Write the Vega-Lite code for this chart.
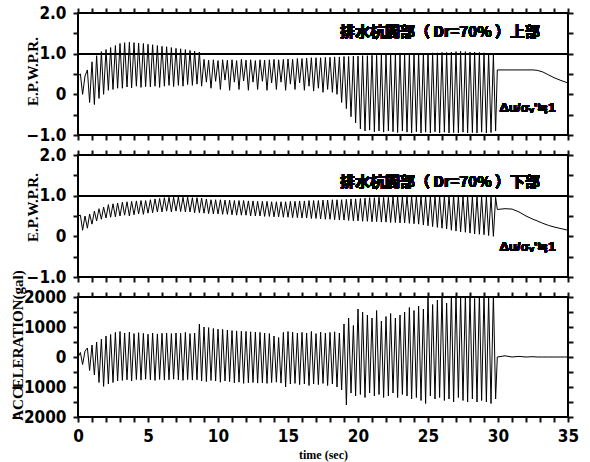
{
"$schema": "https://vega.github.io/schema/vega-lite/v6.json",
"padding": {"left": 9, "top": 3, "right": 10, "bottom": 4},
"background": "white",
"bounds": "flush",
"spacing": 20,
"config": {
  "view": {"stroke": "black", "strokeWidth": 2},
  "axis": {"domain": false, "grid": false, "tickColor": "#111111", "tickWidth": 2, "tickSize": 5, "labelOverlap": false, "labelFont": "Liberation Sans Narrow, DejaVu Sans Condensed, Liberation Sans", "labelFontWeight": "bold", "labelFontSize": 17, "labelColor": "black", "titleFont": "Liberation Serif", "titleFontWeight": "bold", "titleColor": "black", "labelFlush": false}
},
"data": {"values": [
{"t":0,"u":0.45,"l":0.5,"a":0},{"t":0.17,"u":0.5,"l":0.52,"a":150},{"t":0.33,"u":0.0,"l":0.15,"a":-250},{"t":0.5,"u":0.45,"l":0.5,"a":200},{"t":0.67,"u":0.6,"l":0.2,"a":300},{"t":0.83,"u":-0.2,"l":0.55,"a":-450},
{"t":1.0,"u":0.8,"l":0.3,"a":400},{"t":1.17,"u":-0.25,"l":0.62,"a":-600},{"t":1.33,"u":0.95,"l":0.38,"a":500},{"t":1.5,"u":-0.1,"l":0.68,"a":-850},{"t":1.67,"u":1.05,"l":0.42,"a":600},{"t":1.83,"u":0.0,"l":0.72,"a":-980},
{"t":2.0,"u":1.1,"l":0.45,"a":700},{"t":2.17,"u":0.1,"l":0.78,"a":-900},{"t":2.33,"u":1.15,"l":0.47,"a":750},{"t":2.5,"u":0.12,"l":0.8,"a":-850},{"t":2.67,"u":1.2,"l":0.48,"a":820},{"t":2.83,"u":0.15,"l":0.82,"a":-800},
{"t":3.0,"u":1.25,"l":0.5,"a":850},{"t":3.17,"u":0.15,"l":0.84,"a":-780},{"t":3.33,"u":1.27,"l":0.52,"a":800},{"t":3.5,"u":0.18,"l":0.85,"a":-760},{"t":3.67,"u":1.28,"l":0.5,"a":830},{"t":3.83,"u":0.16,"l":0.86,"a":-800},
{"t":4.0,"u":1.27,"l":0.53,"a":780},{"t":4.17,"u":0.2,"l":0.87,"a":-750},{"t":4.33,"u":1.26,"l":0.55,"a":810},{"t":4.5,"u":0.17,"l":0.88,"a":-770},{"t":4.67,"u":1.25,"l":0.54,"a":790},{"t":4.83,"u":0.19,"l":0.88,"a":-740},
{"t":5.0,"u":1.23,"l":0.57,"a":760},{"t":5.17,"u":0.18,"l":0.9,"a":-760},{"t":5.33,"u":1.22,"l":0.58,"a":800},{"t":5.5,"u":0.2,"l":0.92,"a":-780},{"t":5.67,"u":1.2,"l":0.6,"a":770},{"t":5.83,"u":0.17,"l":0.93,"a":-750},
{"t":6.0,"u":1.18,"l":0.6,"a":790},{"t":6.17,"u":0.2,"l":0.95,"a":-770},{"t":6.33,"u":1.17,"l":0.62,"a":800},{"t":6.5,"u":0.22,"l":0.96,"a":-760},{"t":6.67,"u":1.15,"l":0.6,"a":780},{"t":6.83,"u":0.19,"l":0.96,"a":-740},
{"t":7.0,"u":1.13,"l":0.62,"a":800},{"t":7.17,"u":0.22,"l":0.97,"a":-760},{"t":7.33,"u":1.12,"l":0.61,"a":790},{"t":7.5,"u":0.2,"l":0.96,"a":-780},{"t":7.67,"u":1.1,"l":0.6,"a":820},{"t":7.83,"u":0.24,"l":0.96,"a":-750},
{"t":8.0,"u":1.08,"l":0.6,"a":780},{"t":8.17,"u":0.22,"l":0.95,"a":-770},{"t":8.33,"u":1.06,"l":0.58,"a":800},{"t":8.5,"u":0.25,"l":0.95,"a":-760},{"t":8.67,"u":1.04,"l":0.58,"a":1100},{"t":8.83,"u":0.2,"l":0.94,"a":-800},
{"t":9.0,"u":0.86,"l":0.57,"a":1000},{"t":9.17,"u":0.3,"l":0.92,"a":-820},{"t":9.33,"u":0.84,"l":0.56,"a":980},{"t":9.5,"u":0.15,"l":0.9,"a":-780},{"t":9.67,"u":0.85,"l":0.55,"a":950},{"t":9.83,"u":0.32,"l":0.9,"a":-800},
{"t":10.0,"u":0.83,"l":0.55,"a":930},{"t":10.17,"u":0.12,"l":0.9,"a":-840},{"t":10.33,"u":0.85,"l":0.54,"a":920},{"t":10.5,"u":0.35,"l":0.89,"a":-800},{"t":10.67,"u":0.84,"l":0.54,"a":900},{"t":10.83,"u":0.1,"l":0.89,"a":-820},
{"t":11.0,"u":0.85,"l":0.53,"a":880},{"t":11.17,"u":0.3,"l":0.88,"a":-860},{"t":11.33,"u":0.83,"l":0.52,"a":870},{"t":11.5,"u":0.12,"l":0.88,"a":-840},{"t":11.67,"u":0.86,"l":0.52,"a":860},{"t":11.83,"u":0.33,"l":0.88,"a":-880},
{"t":12.0,"u":0.84,"l":0.52,"a":850},{"t":12.17,"u":0.1,"l":0.87,"a":-860},{"t":12.33,"u":0.85,"l":0.5,"a":840},{"t":12.5,"u":0.3,"l":0.87,"a":-850},{"t":12.67,"u":0.83,"l":0.5,"a":830},{"t":12.83,"u":0.12,"l":0.86,"a":-870},
{"t":13.0,"u":0.85,"l":0.5,"a":820},{"t":13.17,"u":0.32,"l":0.86,"a":-860},{"t":13.33,"u":0.84,"l":0.49,"a":800},{"t":13.5,"u":0.1,"l":0.86,"a":-880},{"t":13.67,"u":0.85,"l":0.49,"a":780},{"t":13.83,"u":0.28,"l":0.85,"a":-850},
{"t":14.0,"u":0.86,"l":0.48,"a":700},{"t":14.17,"u":0.12,"l":0.85,"a":-840},{"t":14.33,"u":0.85,"l":0.48,"a":650},{"t":14.5,"u":0.3,"l":0.85,"a":-870},{"t":14.67,"u":0.86,"l":0.47,"a":820},{"t":14.83,"u":0.1,"l":0.85,"a":-1000},
{"t":15.0,"u":0.87,"l":0.47,"a":850},{"t":15.17,"u":0.25,"l":0.86,"a":-900},{"t":15.33,"u":0.86,"l":0.46,"a":830},{"t":15.5,"u":0.12,"l":0.86,"a":-880},{"t":15.67,"u":0.88,"l":0.46,"a":800},{"t":15.83,"u":0.28,"l":0.87,"a":-920},
{"t":16.0,"u":0.88,"l":0.45,"a":820},{"t":16.17,"u":0.1,"l":0.87,"a":-900},{"t":16.33,"u":0.89,"l":0.45,"a":800},{"t":16.5,"u":0.2,"l":0.88,"a":-950},{"t":16.67,"u":0.9,"l":0.44,"a":850},{"t":16.83,"u":0.08,"l":0.88,"a":-900},
{"t":17.0,"u":0.9,"l":0.44,"a":780},{"t":17.17,"u":0.15,"l":0.88,"a":-920},{"t":17.33,"u":0.9,"l":0.43,"a":830},{"t":17.5,"u":0.05,"l":0.89,"a":-880},{"t":17.67,"u":0.91,"l":0.42,"a":800},{"t":17.83,"u":0.12,"l":0.89,"a":-950},
{"t":18.0,"u":0.91,"l":0.42,"a":820},{"t":18.17,"u":0.05,"l":0.9,"a":-900},{"t":18.33,"u":0.92,"l":0.41,"a":840},{"t":18.5,"u":0.0,"l":0.9,"a":-1000},{"t":18.67,"u":0.92,"l":0.4,"a":800},{"t":18.83,"u":-0.2,"l":0.9,"a":-1100},
{"t":19.0,"u":0.93,"l":0.4,"a":1100},{"t":19.17,"u":-0.35,"l":0.91,"a":-1600},{"t":19.33,"u":0.93,"l":0.39,"a":1300},{"t":19.5,"u":-0.55,"l":0.92,"a":-1200},{"t":19.67,"u":0.94,"l":0.38,"a":1050},{"t":19.83,"u":-0.7,"l":0.92,"a":-1300},
{"t":20.0,"u":0.94,"l":0.38,"a":1600},{"t":20.17,"u":-0.85,"l":0.93,"a":-1250},{"t":20.33,"u":0.95,"l":0.37,"a":1500},{"t":20.5,"u":-0.9,"l":0.94,"a":-1350},{"t":20.67,"u":0.95,"l":0.37,"a":1400},{"t":20.83,"u":-0.88,"l":0.95,"a":-1200},
{"t":21.0,"u":0.96,"l":0.36,"a":1300},{"t":21.17,"u":-0.92,"l":0.95,"a":-1300},{"t":21.33,"u":0.96,"l":0.36,"a":1550},{"t":21.5,"u":-0.9,"l":0.96,"a":-1250},{"t":21.67,"u":0.97,"l":0.35,"a":1200},{"t":21.83,"u":-0.93,"l":0.96,"a":-1350},
{"t":22.0,"u":0.97,"l":0.35,"a":1350},{"t":22.17,"u":-0.9,"l":0.96,"a":-1300},{"t":22.33,"u":0.98,"l":0.34,"a":1450},{"t":22.5,"u":-0.92,"l":0.97,"a":-1200},{"t":22.67,"u":0.98,"l":0.34,"a":1300},{"t":22.83,"u":-0.94,"l":0.97,"a":-1350},
{"t":23.0,"u":0.98,"l":0.33,"a":1400},{"t":23.17,"u":-0.9,"l":0.97,"a":-1250},{"t":23.33,"u":0.99,"l":0.33,"a":1500},{"t":23.5,"u":-0.93,"l":0.98,"a":-1300},{"t":23.67,"u":0.99,"l":0.32,"a":1650},{"t":23.83,"u":-0.95,"l":0.98,"a":-1400},
{"t":24.0,"u":1.0,"l":0.31,"a":1550},{"t":24.17,"u":-0.92,"l":0.98,"a":-1350},{"t":24.33,"u":1.0,"l":0.3,"a":1700},{"t":24.5,"u":-0.95,"l":0.98,"a":-1450},{"t":24.67,"u":1.01,"l":0.28,"a":1600},{"t":24.83,"u":-0.93,"l":0.98,"a":-1550},
{"t":25.0,"u":1.01,"l":0.26,"a":2100},{"t":25.17,"u":-0.95,"l":0.98,"a":-1300},{"t":25.33,"u":1.02,"l":0.24,"a":1750},{"t":25.5,"u":-0.92,"l":0.99,"a":-1400},{"t":25.67,"u":1.02,"l":0.22,"a":1900},{"t":25.83,"u":-0.95,"l":0.99,"a":-1350},
{"t":26.0,"u":1.03,"l":0.2,"a":2100},{"t":26.17,"u":-0.93,"l":0.99,"a":-1450},{"t":26.33,"u":1.03,"l":0.18,"a":1800},{"t":26.5,"u":-0.95,"l":1.0,"a":-1400},{"t":26.67,"u":1.04,"l":0.15,"a":2100},{"t":26.83,"u":-0.94,"l":1.0,"a":-1500},
{"t":27.0,"u":1.05,"l":0.13,"a":2100},{"t":27.17,"u":-0.95,"l":0.99,"a":-1350},{"t":27.33,"u":1.06,"l":0.11,"a":2000},{"t":27.5,"u":-0.93,"l":0.99,"a":-1450},{"t":27.67,"u":1.05,"l":0.1,"a":2100},{"t":27.83,"u":-0.95,"l":0.99,"a":-1500},
{"t":28.0,"u":1.04,"l":0.08,"a":2100},{"t":28.17,"u":-0.94,"l":0.98,"a":-1400},{"t":28.33,"u":1.04,"l":0.06,"a":1950},{"t":28.5,"u":-0.95,"l":0.98,"a":-1500},{"t":28.67,"u":1.03,"l":0.05,"a":2100},{"t":28.83,"u":-0.93,"l":0.98,"a":-1450},
{"t":29.0,"u":1.02,"l":0.04,"a":2100},{"t":29.17,"u":-0.95,"l":0.97,"a":-1500},{"t":29.33,"u":1.0,"l":0.02,"a":2000},{"t":29.5,"u":-0.94,"l":0.97,"a":-1550},{"t":29.67,"u":0.98,"l":0.0,"a":2100},{"t":29.83,"u":-0.9,"l":0.96,"a":-1400},
{"t":29.95,"u":0.6,"l":0.66,"a":0},{"t":30.5,"u":0.6,"l":0.68,"a":40},{"t":31.0,"u":0.6,"l":0.67,"a":0},{"t":31.5,"u":0.6,"l":0.6,"a":20},{"t":32.0,"u":0.6,"l":0.5,"a":0},{"t":32.5,"u":0.6,"l":0.42,"a":10},{"t":32.8,"u":0.59,"l":0.38,"a":0},{"t":33.2,"u":0.55,"l":0.32,"a":0},{"t":33.6,"u":0.48,"l":0.27,"a":0},{"t":34.0,"u":0.41,"l":0.23,"a":0},{"t":34.5,"u":0.34,"l":0.19,"a":0},{"t":35.0,"u":0.28,"l":0.15,"a":0}
]},
"vconcat": [
{
  "width": 490, "height": 122,
  "resolve": {"axis": {"x": "independent", "y": "independent"}},
  "layer": [
    {"mark": {"type": "line", "color": "black", "strokeWidth": 1, "clip": true},
     "encoding": {
       "x": {"field": "t", "type": "quantitative", "scale": {"domain": [0, 35]},
             "axis": {"orient": "bottom", "labels": false, "title": null, "values": [0,1,2,3,4,5,6,7,8,9,10,11,12,13,14,15,16,17,18,19,20,21,22,23,24,25,26,27,28,29,30,31,32,33,34,35]}},
       "y": {"field": "u", "type": "quantitative", "scale": {"domain": [-1, 2]},
             "axis": {"orient": "left", "values": [-1,-0.5,0,0.5,1,1.5,2], "labelExpr": "datum.value === 0 ? '0' : (datum.value % 1 === 0 ? format(datum.value, '.1f') : '')", "labelPadding": 7, "title": "E.P.W.P.R.", "titleFontSize": 15, "titleAngle": -90, "titleBaseline": "middle", "titleAlign": "center", "titleX": -46, "titleY": 58}}
     }},
    {"mark": {"type": "line", "opacity": 0},
     "encoding": {
       "x": {"field": "t", "type": "quantitative", "axis": {"orient": "top", "labels": false, "title": null, "values": [0,1,2,3,4,5,6,7,8,9,10,11,12,13,14,15,16,17,18,19,20,21,22,23,24,25,26,27,28,29,30,31,32,33,34,35]}},
       "y": {"field": "u", "type": "quantitative", "axis": {"orient": "right", "labels": false, "title": null, "values": [-1,-0.5,0,0.5,1,1.5,2]}}
     }},
    {"mark": {"type": "rule", "color": "black", "strokeWidth": 1.5}, "encoding": {"y": {"datum": 1, "axis": null}}},
    {"mark": {"type": "text", "align": "right", "baseline": "middle", "font": "Noto Sans CJK JP", "fontWeight": "bold", "fontSize": 15, "color": "black"},
     "encoding": {"x": {"datum": 33, "axis": null}, "y": {"datum": 1.54, "axis": null}, "text": {"value": "排水杭間部（ Dr=70% ）上部"}}},
    {"mark": {"type": "text", "align": "right", "baseline": "middle", "font": "Liberation Sans", "fontWeight": "bold", "fontSize": 13, "color": "black"},
     "encoding": {"x": {"datum": 34.1, "axis": null}, "y": {"datum": -0.33, "axis": null}, "text": {"value": "Δu/σᵥ'≒1"}}}
  ]
},
{
  "width": 490, "height": 122,
  "resolve": {"axis": {"x": "independent", "y": "independent"}},
  "layer": [
    {"mark": {"type": "line", "color": "black", "strokeWidth": 1, "clip": true},
     "encoding": {
       "x": {"field": "t", "type": "quantitative", "scale": {"domain": [0, 35]},
             "axis": {"orient": "bottom", "labels": false, "title": null, "values": [0,1,2,3,4,5,6,7,8,9,10,11,12,13,14,15,16,17,18,19,20,21,22,23,24,25,26,27,28,29,30,31,32,33,34,35]}},
       "y": {"field": "l", "type": "quantitative", "scale": {"domain": [-1, 2]},
             "axis": {"orient": "left", "values": [-1,-0.5,0,0.5,1,1.5,2], "labelExpr": "datum.value === 0 ? '0' : (datum.value % 1 === 0 ? format(datum.value, '.1f') : '')", "labelPadding": 7, "title": "E.P.W.P.R.", "titleFontSize": 15, "titleAngle": -90, "titleBaseline": "middle", "titleAlign": "center", "titleX": -46, "titleY": 52}}
     }},
    {"mark": {"type": "line", "opacity": 0},
     "encoding": {
       "x": {"field": "t", "type": "quantitative", "axis": {"orient": "top", "labels": false, "title": null, "values": [0,1,2,3,4,5,6,7,8,9,10,11,12,13,14,15,16,17,18,19,20,21,22,23,24,25,26,27,28,29,30,31,32,33,34,35]}},
       "y": {"field": "l", "type": "quantitative", "axis": {"orient": "right", "labels": false, "title": null, "values": [-1,-0.5,0,0.5,1,1.5,2]}}
     }},
    {"mark": {"type": "rule", "color": "black", "strokeWidth": 1.5}, "encoding": {"y": {"datum": 1, "axis": null}}},
    {"mark": {"type": "text", "align": "right", "baseline": "middle", "font": "Noto Sans CJK JP", "fontWeight": "bold", "fontSize": 15, "color": "black"},
     "encoding": {"x": {"datum": 33, "axis": null}, "y": {"datum": 1.34, "axis": null}, "text": {"value": "排水杭間部（ Dr=70% ）下部"}}},
    {"mark": {"type": "text", "align": "right", "baseline": "middle", "font": "Liberation Sans", "fontWeight": "bold", "fontSize": 13, "color": "black"},
     "encoding": {"x": {"datum": 34.1, "axis": null}, "y": {"datum": -0.25, "axis": null}, "text": {"value": "Δu/σᵥ'≒1"}}}
  ]
},
{
  "width": 490, "height": 120,
  "resolve": {"axis": {"x": "independent", "y": "independent"}},
  "layer": [
    {"mark": {"type": "line", "color": "black", "strokeWidth": 1, "clip": true},
     "encoding": {
       "x": {"field": "t", "type": "quantitative", "scale": {"domain": [0, 35]},
             "axis": {"orient": "bottom", "values": [0,1,2,3,4,5,6,7,8,9,10,11,12,13,14,15,16,17,18,19,20,21,22,23,24,25,26,27,28,29,30,31,32,33,34,35], "labelExpr": "datum.value % 5 === 0 ? datum.label : ''", "labelPadding": 6, "title": "time (sec)", "titleFontSize": 12, "titleBaseline": "middle", "titleX": 245, "titleY": 37}},
       "y": {"field": "a", "type": "quantitative", "scale": {"domain": [-2000, 2000]},
             "axis": {"orient": "left", "values": [-2000,-1500,-1000,-500,0,500,1000,1500,2000], "labelExpr": "datum.value % 1000 === 0 ? format(datum.value, 'd') : ''", "labelPadding": 7, "title": "ACCELERATION(gal)", "titleFontSize": 15, "titleAngle": -90, "titleBaseline": "middle", "titleAlign": "center", "titleX": -61, "titleY": 48}}
     }},
    {"mark": {"type": "line", "opacity": 0},
     "encoding": {
       "x": {"field": "t", "type": "quantitative", "axis": {"orient": "top", "labels": false, "title": null, "values": [0,1,2,3,4,5,6,7,8,9,10,11,12,13,14,15,16,17,18,19,20,21,22,23,24,25,26,27,28,29,30,31,32,33,34,35]}},
       "y": {"field": "a", "type": "quantitative", "axis": {"orient": "right", "labels": false, "title": null, "values": [-2000,-1500,-1000,-500,0,500,1000,1500,2000]}}
     }}
  ]
}
]
}
